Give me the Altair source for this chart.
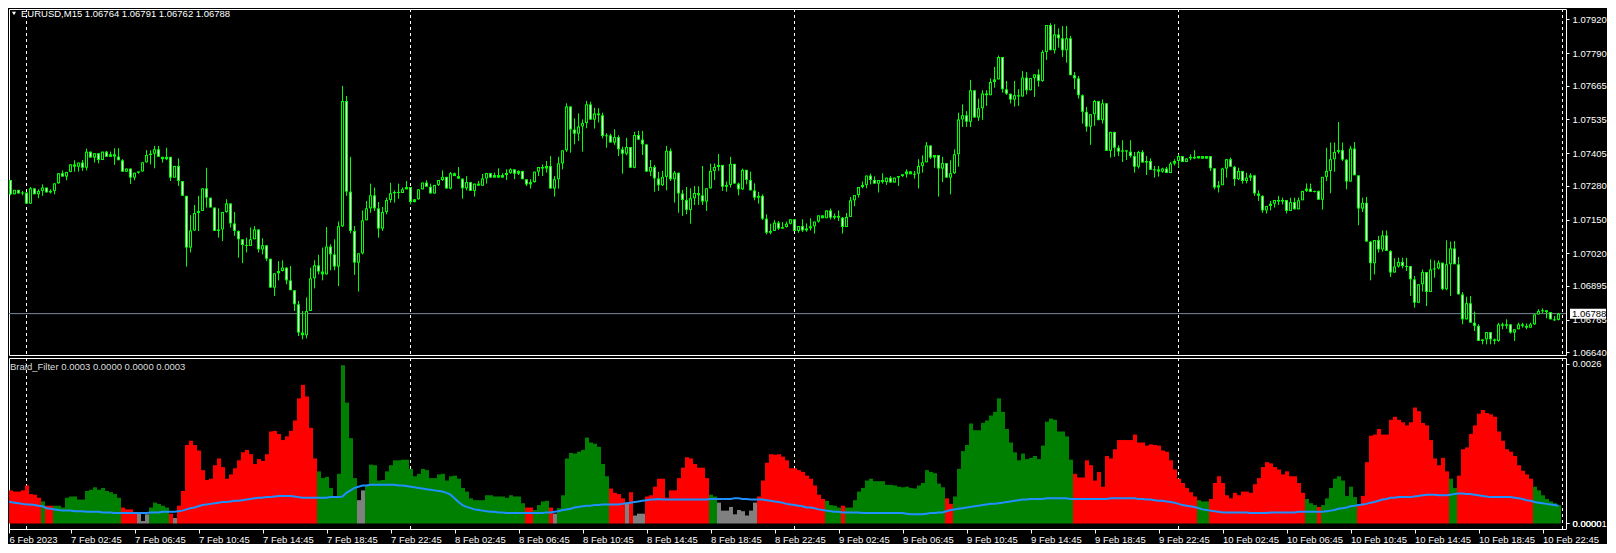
import json
import altair as alt
import pandas as pd

# ---------------- data (prices in 1e-5 units above 1.0, e.g. 7302 -> 1.07302) -------------
first_open = 7279
close_pts = [
 7302,7247,7264,7250,7254,7211,7270,7247,7260,7273,
 7254,7260,7289,7328,7315,7333,7362,7353,7369,7349,
 7411,7388,7405,7379,7411,7391,7401,7392,7378,7334,
 7346,7311,7330,7335,7370,7398,7403,7420,7391,7382,
 7391,7311,7356,7298,7241,7042,7108,7175,7183,7270,
 7234,7196,7106,7112,7179,7212,7135,7106,7074,7052,
 7048,7074,7112,7035,7051,6999,6888,6943,6952,6965,
 6916,6878,6824,6715,6705,6798,6924,6974,6950,6939,
 7046,7016,6969,7124,7606,7257,7106,6984,7020,7147,
 7193,7243,7193,7115,7179,7225,7251,7256,7252,7266,
 7275,7217,7228,7266,7292,7276,7250,7283,7302,7314,
 7269,7328,7317,7307,7270,7294,7260,7288,7280,7308,
 7329,7311,7321,7311,7321,7329,7343,7326,7337,7305,
 7285,7294,7334,7352,7346,7356,7269,7305,7366,7416,
 7585,7496,7480,7508,7521,7593,7534,7558,7551,7471,
 7474,7446,7467,7420,7403,7429,7349,7475,7457,7439,
 7334,7352,7308,7282,7314,7414,7305,7330,7250,7225,
 7187,7232,7252,7243,7219,7270,7337,7352,7360,7276,
 7283,7364,7288,7266,7341,7302,7262,7234,7241,7153,
 7099,7106,7138,7115,7121,7134,7151,7106,7125,7108,
 7116,7124,7142,7166,7155,7185,7157,7164,7157,7121,
 7160,7224,7244,7275,7283,7319,7302,7288,7302,7294,
 7311,7292,7311,7317,7324,7335,7324,7326,7356,7370,
 7435,7388,7398,7346,7367,7311,7328,7401,7535,7551,
 7526,7647,7542,7578,7635,7628,7679,7689,7775,7651,
 7634,7611,7628,7623,7696,7647,7694,7708,7683,7794,
 7898,7801,7862,7847,7801,7847,7705,7693,7628,7564,
 7507,7555,7606,7532,7597,7414,7487,7426,7411,7416,
 7411,7394,7353,7410,7369,7375,7341,7343,7334,7346,
 7329,7365,7375,7394,7371,7385,7391,7385,7394,7384,
 7394,7347,7273,7282,7346,7382,7353,7305,7337,7298,
 7311,7320,7250,7241,7185,7202,7211,7225,7219,7225,
 7183,7217,7189,7224,7260,7269,7256,7260,7226,7314,
 7337,7382,7410,7417,7380,7296,7423,7320,7192,7214,
 7065,6982,7071,7035,7089,7029,6946,6969,6987,6971,
 6971,6920,6830,6901,6948,6871,6958,6962,6984,6882,
 6978,7039,6978,6862,6766,6828,6753,6741,6683,6689,
 6717,6689,6683,6747,6741,6747,6715,6728,6747,6741,
 6734,6747,6785,6798,6801,6794,6766,6764,6788,
]
high_pts = [
 7302,7298,7264,7262,7260,7247,7275,7270,7266,7285,
 7273,7266,7289,7328,7339,7333,7362,7378,7369,7379,
 7423,7407,7405,7401,7411,7414,7411,7424,7424,7382,
 7346,7342,7330,7335,7370,7417,7416,7433,7433,7391,
 7426,7391,7356,7385,7298,7241,7167,7206,7241,7270,
 7349,7234,7196,7193,7179,7228,7212,7179,7108,7074,
 7080,7119,7125,7112,7078,7051,6999,6943,6990,6993,
 6967,6971,6878,6837,6798,6850,6965,6993,7014,7042,
 7121,7055,7074,7142,7664,7625,7391,7125,7020,7185,
 7221,7288,7273,7217,7198,7234,7291,7262,7288,7273,
 7298,7269,7228,7266,7292,7301,7288,7283,7302,7339,
 7314,7333,7330,7352,7308,7317,7292,7288,7298,7325,
 7329,7329,7330,7347,7328,7343,7347,7343,7339,7337,
 7305,7305,7334,7352,7362,7375,7394,7317,7391,7416,
 7597,7585,7539,7558,7535,7606,7603,7580,7578,7561,
 7482,7480,7497,7474,7430,7464,7429,7487,7491,7491,
 7439,7379,7360,7333,7337,7433,7423,7337,7328,7264,
 7275,7270,7279,7278,7356,7270,7365,7365,7402,7360,
 7296,7391,7364,7292,7346,7341,7334,7289,7256,7247,
 7170,7134,7148,7144,7140,7142,7151,7151,7125,7151,
 7135,7155,7142,7166,7166,7185,7192,7173,7185,7160,
 7175,7237,7244,7275,7296,7319,7326,7316,7302,7328,
 7311,7317,7311,7317,7324,7343,7337,7337,7382,7397,
 7448,7435,7398,7398,7391,7367,7378,7420,7561,7593,
 7567,7687,7647,7615,7647,7647,7693,7737,7781,7775,
 7683,7634,7683,7651,7721,7717,7694,7708,7728,7801,
 7898,7905,7901,7885,7894,7894,7856,7717,7702,7631,
 7583,7555,7610,7606,7612,7597,7487,7487,7435,7455,
 7416,7455,7410,7414,7417,7394,7385,7356,7356,7349,
 7352,7371,7382,7401,7394,7385,7401,7417,7394,7394,
 7394,7394,7347,7298,7349,7382,7388,7356,7349,7333,
 7330,7328,7320,7262,7243,7202,7221,7225,7241,7234,
 7225,7234,7234,7234,7260,7289,7288,7260,7262,7314,
 7426,7446,7446,7525,7446,7382,7433,7448,7320,7234,
 7237,7067,7071,7087,7108,7108,7032,7001,7003,7003,
 7003,6971,6933,6901,6958,6946,6997,6993,6993,6984,
 7070,7065,7067,7006,6871,6853,6856,6796,6747,6689,
 6717,6712,6692,6753,6753,6766,6730,6728,6753,6753,
 6750,6753,6785,6805,6808,6798,6789,6779,6791,
]
low_pts = [
 7279,7243,7247,7250,7243,7211,7212,7247,7232,7241,
 7254,7250,7247,7288,7315,7301,7332,7334,7334,7337,
 7339,7388,7369,7366,7384,7391,7392,7360,7378,7334,
 7334,7287,7301,7326,7334,7369,7362,7347,7391,7369,
 7378,7298,7311,7279,7241,6969,7023,7106,7106,7188,
 7196,7196,7106,7080,7067,7176,7119,7087,7003,6982,
 7023,7048,7074,7023,7016,6990,6888,6856,6916,6950,
 6901,6878,6798,6702,6689,6693,6798,6885,6939,6916,
 6939,6955,6955,6894,7121,7241,7097,6937,6873,7016,
 7147,7176,7183,7080,7106,7170,7215,7215,7230,7254,
 7269,7208,7216,7226,7266,7276,7250,7250,7279,7298,
 7269,7266,7317,7307,7230,7262,7260,7238,7280,7280,
 7288,7311,7311,7311,7311,7302,7326,7305,7321,7305,
 7279,7269,7292,7317,7317,7330,7269,7238,7269,7343,
 7410,7407,7439,7452,7411,7501,7534,7500,7523,7462,
 7426,7446,7437,7394,7326,7397,7349,7347,7457,7398,
 7334,7317,7257,7260,7279,7262,7298,7215,7176,7164,
 7170,7134,7206,7206,7206,7183,7269,7302,7337,7260,
 7257,7273,7288,7243,7264,7285,7262,7224,7211,7148,
 7093,7093,7108,7110,7115,7119,7131,7106,7099,7102,
 7103,7108,7096,7138,7155,7155,7150,7150,7144,7096,
 7123,7160,7201,7234,7270,7270,7285,7288,7254,7288,
 7283,7292,7292,7279,7314,7311,7324,7307,7269,7330,
 7370,7382,7349,7238,7294,7311,7247,7325,7353,7506,
 7506,7506,7542,7529,7533,7587,7630,7657,7689,7638,
 7629,7596,7584,7587,7625,7631,7647,7621,7661,7680,
 7764,7801,7788,7811,7775,7753,7705,7651,7615,7519,
 7488,7437,7510,7532,7519,7414,7388,7391,7394,7371,
 7379,7388,7330,7346,7369,7321,7341,7311,7315,7330,
 7329,7330,7358,7349,7371,7373,7378,7382,7384,7384,
 7385,7337,7266,7254,7282,7311,7353,7279,7302,7288,
 7289,7298,7241,7221,7176,7173,7185,7196,7206,7208,
 7173,7183,7189,7189,7225,7256,7256,7254,7226,7188,
 7298,7251,7334,7403,7375,7266,7296,7320,7128,7179,
 7065,6916,6939,7023,7026,7029,6929,6946,6965,6962,
 6952,6856,6811,6830,6873,6817,6871,6926,6958,6878,
 6878,6856,6978,6862,6747,6766,6753,6721,6683,6670,
 6670,6670,6670,6680,6728,6730,6711,6683,6728,6734,
 6728,6734,6744,6785,6790,6770,6766,6760,6762,
]

# Braid_Filter histogram (1e-5 units) and its colour state per bar
braid_hist = [
 62,54,52,52,54,62,48,47,42,36,
 29,29,29,29,26,42,44,44,39,39,
 53,55,59,55,58,53,51,48,42,26,
 23,23,16,16,4,15,26,34,32,29,
 26,16,9,29,53,128,135,128,119,87,
 71,73,95,106,92,73,80,90,103,116,
 120,113,97,105,102,113,150,151,146,136,
 142,151,168,204,226,207,156,106,85,74,
 76,58,42,81,258,197,139,74,38,54,
 62,96,95,70,71,85,95,103,103,104,
 104,89,77,81,89,87,74,74,80,81,
 70,77,78,73,58,52,41,38,38,38,
 46,46,44,44,44,42,46,44,44,33,
 26,26,22,30,36,37,26,16,25,46,
 106,115,114,117,120,140,132,130,125,97,
 77,57,50,48,41,34,51,13,16,16,
 44,46,60,73,73,42,54,54,74,91,
 108,106,97,91,91,74,47,44,34,21,
 21,27,15,22,20,13,21,34,44,70,
 99,113,112,113,109,103,90,90,87,84,
 78,73,62,47,40,37,30,29,26,29,
 26,26,38,52,58,70,73,69,69,69,
 63,63,62,60,59,60,58,57,62,66,
 87,84,82,65,59,41,32,44,89,118,
 128,163,152,152,164,168,176,182,204,182,
 154,132,116,103,114,105,107,110,105,127,
 166,171,169,150,150,142,104,81,75,75,
 103,95,70,84,60,110,106,121,136,136,
 136,136,145,132,132,127,129,128,127,119,
 117,103,88,73,66,58,51,44,38,36,
 36,40,66,77,66,46,41,50,46,52,
 52,50,64,74,92,100,98,92,88,80,
 85,77,77,66,50,40,33,30,27,30,
 41,58,73,77,70,45,60,43,30,45,
 100,143,145,154,145,145,169,174,169,165,
 160,165,189,183,164,160,136,106,95,107,
 85,73,58,78,121,124,146,160,179,185,
 180,178,174,150,135,121,117,110,95,86,
 80,73,60,54,46,40,36,33,30,
]
# runs of (state, number of bars): G = up (green), R = down (red), N = neutral (gray)
braid_state_runs = [
 ("G",1),("R",8),("G",1),("R",2),("G",17),("R",4),("N",3),("G",5),("R",1),("N",1),
 ("R",35),("G",10),("N",2),("G",40),("R",2),("G",4),("R",1),("N",1),("G",13),("R",4),
 ("N",1),("R",1),("N",3),("R",16),("G",2),("N",10),("R",17),("G",4),("R",1),("G",25),
 ("R",2),("G",30),("R",31),("G",3),("R",24),("G",3),("R",1),("G",9),("R",23),("G",2),
 ("R",19),("G",7),
]
# blue signal line (1e-5 units)
braid_signal = [
 36,35,34,33,32,31,31,30,29,28,
 25,24,23,22,21,21,21,20,20,20,
 19,19,19,19,18,18,18,17,17,17,
 17,17,17,17,17,17,18,18,18,19,
 19,19,19,20,21,23,25,26,28,30,
 31,32,33,34,35,35,36,37,37,38,
 39,40,41,42,42,43,43,44,45,45,
 45,45,44,43,42,42,42,42,42,42,
 42,43,43,43,44,50,54,58,60,62,
 62,63,63,63,63,63,63,63,62,62,
 61,60,59,58,57,56,55,54,53,52,
 50,47,41,35,30,27,25,23,22,21,
 20,19,19,18,18,17,17,17,17,17,
 17,17,17,17,17,18,18,19,20,22,
 23,24,26,27,28,29,29,30,30,31,
 31,31,31,31,32,33,34,35,36,37,
 38,39,39,40,39,39,39,39,39,39,
 39,39,39,39,39,39,40,40,40,40,
 40,40,41,41,40,40,39,39,39,39,
 38,37,36,35,34,32,31,30,29,28,
 26,26,25,23,22,21,20,19,19,18,
 18,18,18,18,17,17,17,17,17,17,
 17,17,17,17,17,16,15,15,15,15,
 16,17,17,18,18,20,22,23,24,25,
 26,27,28,29,30,31,32,32,33,34,
 35,36,37,38,39,39,40,40,40,40,
 41,41,41,41,41,41,40,40,40,40,
 40,40,40,40,40,40,41,41,41,41,
 41,41,41,40,40,39,39,38,37,37,
 36,35,34,32,30,29,28,27,25,23,
 22,21,20,19,18,18,18,18,18,18,
 18,17,17,17,17,17,18,18,18,18,
 18,18,18,19,19,19,19,19,19,19,
 20,21,22,24,25,26,28,29,30,31,
 32,34,35,37,39,40,42,42,43,43,
 43,43,44,45,46,47,47,47,46,46,
 46,47,48,49,49,48,48,47,46,45,
 44,43,43,43,43,43,43,42,41,40,
 38,37,35,34,33,32,31,30,29,
]

time_labels = [
 "6 Feb 2023", "7 Feb 02:45", "7 Feb 06:45", "7 Feb 10:45", "7 Feb 14:45",
 "7 Feb 18:45", "7 Feb 22:45", "8 Feb 02:45", "8 Feb 06:45", "8 Feb 10:45",
 "8 Feb 14:45", "8 Feb 18:45", "8 Feb 22:45", "9 Feb 02:45", "9 Feb 06:45",
 "9 Feb 10:45", "9 Feb 14:45", "9 Feb 18:45", "9 Feb 22:45", "10 Feb 02:45",
 "10 Feb 06:45", "10 Feb 10:45", "10 Feb 14:45", "10 Feb 18:45", "10 Feb 22:45",
]
price_ticks = [1.07920, 1.07790, 1.07665, 1.07535, 1.07405, 1.07280,
               1.07150, 1.07020, 1.06895, 1.06765, 1.06640]
day_starts = [5, 101, 197, 293, 389]      # bar index of each day separator
current_price = 1.06788
header_text = "EURUSD,M15  1.06764 1.06791 1.06762 1.06788"
sub_header_text = "Braid_Filter 0.0003 0.0000 0.0000 0.0003"

# ---------------- build tables ----------------
state = []
for s, k in braid_state_runs:
    state += [s] * k

n = min(len(close_pts), len(high_pts), len(low_pts), len(braid_hist),
        len(braid_signal), len(state))
rows = []
prev = first_open
for i in range(n):
    o, c = prev, close_pts[i]
    h = max(high_pts[i], o, c)
    l = min(low_pts[i], o, c)
    top, bot = max(o, c), min(o, c)
    if top - bot < 4:
        bot = top - 4
    rows.append({
        "i": i, "h": 1 + h / 1e5, "l": 1 + l / 1e5,
        "btop": 1 + top / 1e5, "bbot": 1 + bot / 1e5,
        "inner": (top - bot) >= 12,
        "fillc": "#000000" if c >= o else "#ffffff",
        "xb0": i - 0.375, "xb1": i + 0.375,
        "xi0": i - 0.125, "xi1": i + 0.125,
        "xh0": i - 0.375, "xh1": i + 0.625,
        "hv": braid_hist[i] / 1e5, "z": 0.0,
        "sig": braid_signal[i] / 1e5, "state": state[i],
    })
    prev = c
df = pd.DataFrame(rows)
df_inner = df[df["inner"]]
sep_df = pd.DataFrame({"s": day_starts})
cur_df = pd.DataFrame({"p": [current_price], "lbl": ["%.5f" % current_price]})
head_df = pd.DataFrame({"t": [header_text]})
sub_df = pd.DataFrame({"t": [sub_header_text]})

# ---------------- scales / axes ----------------
W, H_TOP, H_BOT = 1557, 346, 171
X0 = 0.625
FONT = "Liberation Sans"
FS = 9.5
xscale = alt.Scale(domain=[X0, X0 + W / 4], nice=False, zero=False)
price_scale = alt.Scale(domain=[1.066289, 1.079596], nice=False, zero=False)
braid_scale = alt.Scale(domain=[-0.0000897, 0.0026978], nice=False, zero=False)

common_axis = dict(domain=False, grid=False, labelColor="#ffffff", tickColor="#ffffff",
                   labelFont=FONT, labelFontSize=FS, labelOverlap=False, title=None)
price_axis = alt.Axis(orient="right", values=price_ticks, format=".5f",
                      tickSize=3, labelPadding=3, **common_axis)
braid_axis = alt.Axis(orient="right", values=[0, 0.0000001, 0.0026],
                      labelExpr="datum.value > 0.001 ? '0.0026' : (datum.value > 0 ? '0.00001' : '0.0000')",
                      tickSize=3, labelPadding=3, **common_axis)
time_axis = alt.Axis(orient="bottom", values=[X0] + [16 * k for k in range(1, len(time_labels))],
                     labelExpr=json.dumps(time_labels) + "[round(datum.value / 16)]",
                     labelAlign="left", labelBaseline="top", labelFlush=False,
                     tickSize=4, labelPadding=1, **common_axis)

# ---------------- top panel: candles ----------------
seps_top = alt.Chart(sep_df).mark_rule(color="#ffffff", strokeDash=[3, 3], strokeWidth=1).encode(
    x=alt.X("s:Q", scale=xscale, axis=None))
price_line = alt.Chart(cur_df).mark_rule(color="#778899", strokeWidth=1).encode(
    y=alt.Y("p:Q", scale=price_scale, axis=price_axis))
wicks = alt.Chart(df).mark_rule(color="#00ff00", strokeWidth=1, clip=True).encode(
    x=alt.X("i:Q", scale=xscale, axis=None),
    y=alt.Y("l:Q", scale=price_scale, axis=price_axis), y2="h:Q")
bodies = alt.Chart(df).mark_rect(color="#00ff00", clip=True).encode(
    x=alt.X("xb0:Q", scale=xscale, axis=None), x2="xb1:Q",
    y=alt.Y("btop:Q", scale=price_scale, axis=price_axis), y2="bbot:Q")
inners = alt.Chart(df_inner).mark_rect(clip=True, yOffset=1, y2Offset=-1).encode(
    x=alt.X("xi0:Q", scale=xscale, axis=None), x2="xi1:Q",
    y=alt.Y("btop:Q", scale=price_scale, axis=price_axis), y2="bbot:Q",
    color=alt.Color("fillc:N", scale=None))
price_box = alt.Chart(cur_df).mark_rect(color="#ffffff", yOffset=-5, y2Offset=5).encode(
    x=alt.value(W + 4), x2=alt.value(W + 40),
    y=alt.Y("p:Q", scale=price_scale, axis=price_axis), y2="p:Q")
price_box_text = alt.Chart(cur_df).mark_text(
    align="left", baseline="middle", color="#000000", font=FONT, fontSize=FS).encode(
    x=alt.value(W + 6), y=alt.Y("p:Q", scale=price_scale, axis=price_axis), text="lbl:N")
head = alt.Chart(head_df).mark_text(
    align="left", baseline="middle", color="#ffffff", font=FONT, fontSize=FS).encode(
    x=alt.value(12), y=alt.value(4.5), text="t:N")
tri = alt.Chart(head_df).mark_point(shape="triangle-down", filled=True, color="#ffffff",
                                    size=16, opacity=1).encode(x=alt.value(5), y=alt.value(4.5))

top = alt.layer(seps_top, price_line, wicks, bodies, inners, price_box, price_box_text,
                head, tri).properties(width=W, height=H_TOP)

# ---------------- bottom panel: Braid_Filter ----------------
seps_bot = alt.Chart(sep_df).mark_rule(color="#ffffff", strokeDash=[3, 3], strokeWidth=1).encode(
    x=alt.X("s:Q", scale=xscale, axis=time_axis))
hist = alt.Chart(df).mark_rect(clip=True).encode(
    x=alt.X("xh0:Q", scale=xscale, axis=time_axis), x2="xh1:Q",
    y=alt.Y("hv:Q", scale=braid_scale, axis=braid_axis), y2="z:Q",
    color=alt.Color("state:N", scale=alt.Scale(domain=["G", "R", "N"],
                                               range=["#008000", "#ff0000", "#808080"]),
                    legend=None))
sig_line = alt.Chart(df).mark_line(color="#1e90ff", strokeWidth=2, clip=True).encode(
    x=alt.X("i:Q", scale=xscale, axis=time_axis),
    y=alt.Y("sig:Q", scale=braid_scale, axis=braid_axis))
sub_head = alt.Chart(sub_df).mark_text(
    align="left", baseline="middle", color="#dddddd", font=FONT, fontSize=FS).encode(
    x=alt.value(1), y=alt.value(8.5), text="t:N")

bottom = alt.layer(seps_bot, hist, sig_line, sub_head).properties(width=W, height=H_BOT)

chart = alt.vconcat(top, bottom, spacing=3, bounds="flush").properties(
    padding=0
).configure(background="#000000").configure_view(stroke="#ffffff", strokeWidth=1)

chart.save("out.html", embed_options={"renderer": "svg", "actions": False})
